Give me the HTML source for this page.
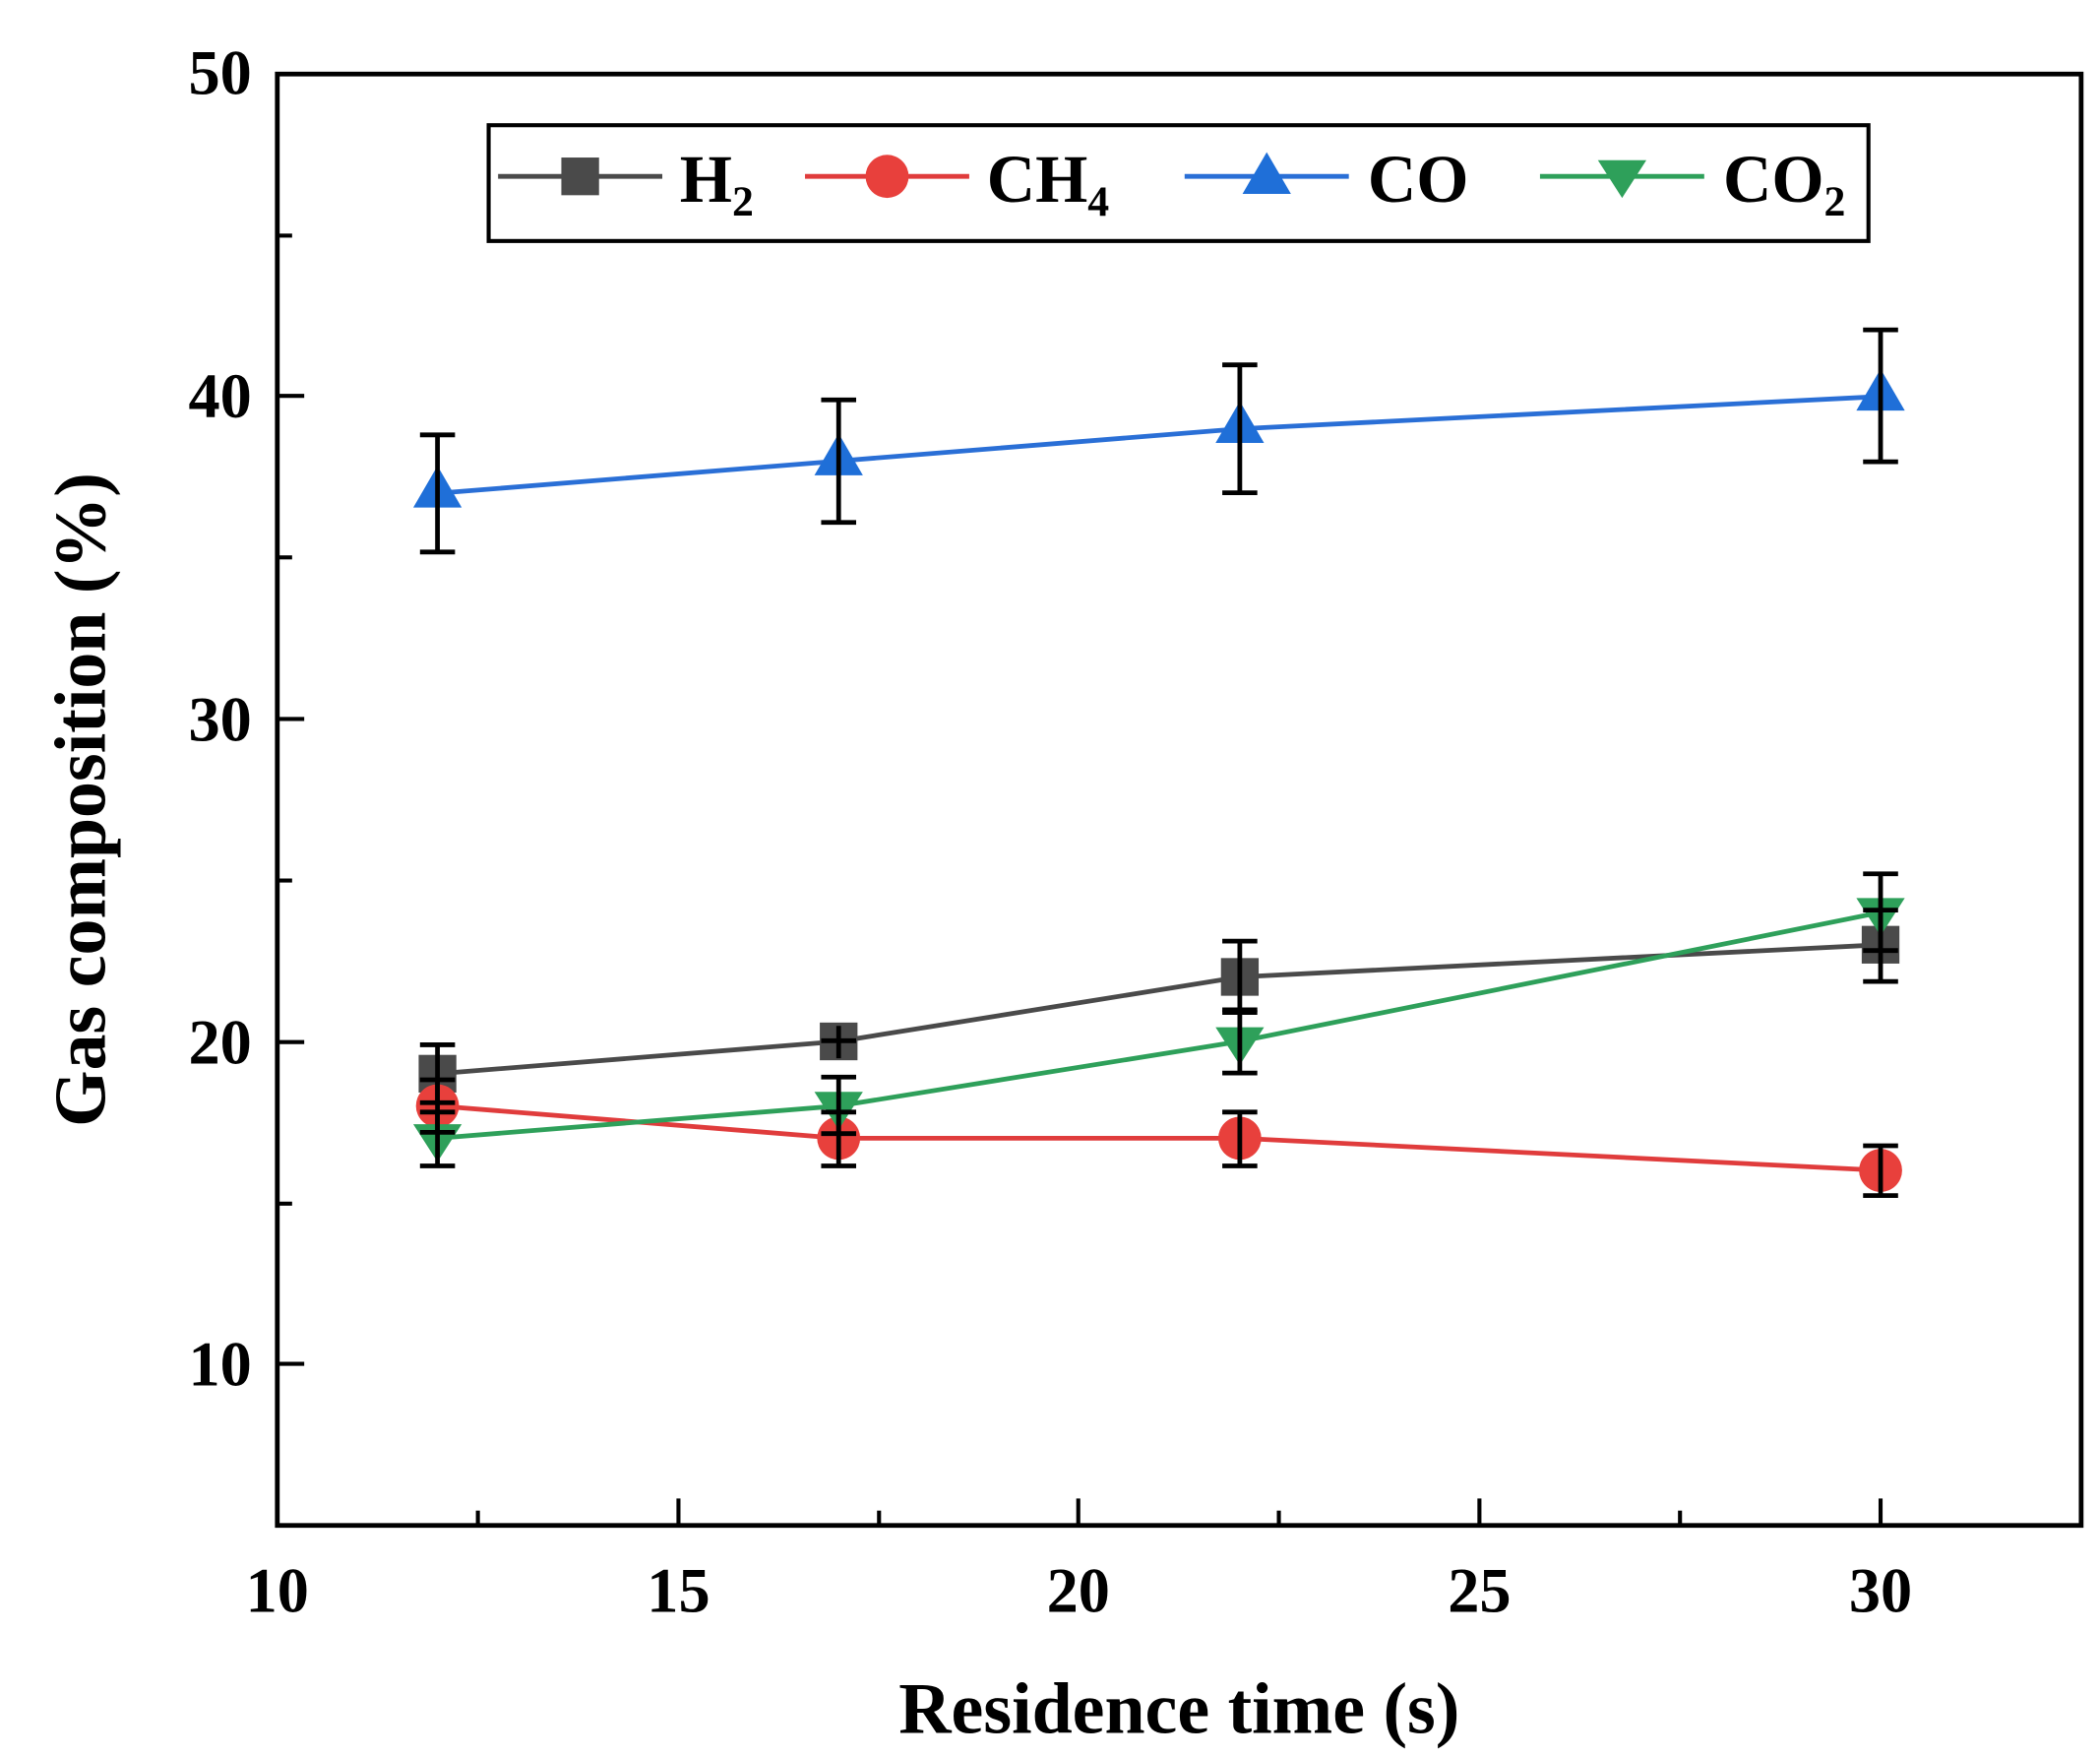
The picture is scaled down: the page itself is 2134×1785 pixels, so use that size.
<!DOCTYPE html>
<html><head><style>html,body{margin:0;padding:0;background:#fff;}svg{display:block;}</style></head>
<body>
<svg width="2134" height="1785" viewBox="0 0 1560 1305" preserveAspectRatio="none" xmlns="http://www.w3.org/2000/svg" font-family="Liberation Serif, serif" font-weight="bold">
<rect width="1560" height="1305" fill="#fff"/>
<rect x="206" y="55" width="1340" height="1078" fill="none" stroke="#000" stroke-width="3.5"/>
<g stroke="#000" stroke-width="3">
<line x1="504" y1="1133" x2="504" y2="1113"/><line x1="801" y1="1133" x2="801" y2="1113"/><line x1="1099" y1="1133" x2="1099" y2="1113"/><line x1="1397" y1="1133" x2="1397" y2="1113"/>
<line x1="355" y1="1133" x2="355" y2="1122"/><line x1="653" y1="1133" x2="653" y2="1122"/><line x1="950" y1="1133" x2="950" y2="1122"/><line x1="1248" y1="1133" x2="1248" y2="1122"/>
<line x1="206" y1="294" x2="226" y2="294"/><line x1="206" y1="534" x2="226" y2="534"/><line x1="206" y1="774" x2="226" y2="774"/><line x1="206" y1="1013" x2="226" y2="1013"/>
<line x1="206" y1="175" x2="217" y2="175"/><line x1="206" y1="414" x2="217" y2="414"/><line x1="206" y1="654" x2="217" y2="654"/><line x1="206" y1="894" x2="217" y2="894"/>
</g>
<g font-size="47" text-anchor="end">
<text x="187" y="70">50</text><text x="187" y="310">40</text><text x="187" y="550">30</text><text x="187" y="790">20</text><text x="187" y="1029">10</text>
</g>
<g font-size="47" text-anchor="middle">
<text x="206" y="1197">10</text><text x="504" y="1197">15</text><text x="801" y="1197">20</text><text x="1099" y="1197">25</text><text x="1397" y="1197">30</text>
</g>
<text x="876" y="1287" font-size="54" text-anchor="middle">Residence time (s)</text>
<text transform="translate(78,594) rotate(-90)" font-size="54" text-anchor="middle">Gas composition (%)</text>
<polyline points="325,797.5 623,773.5 921,725.6 1397,701.7" fill="none" stroke="#4a4a4a" stroke-width="3.5"/>
<polyline points="325,821.4 623,845.4 921,845.4 1397,869.3" fill="none" stroke="#e03c3c" stroke-width="3.5"/>
<polyline points="325,366.4 623,342.4 921,318.5 1397,294.5" fill="none" stroke="#2a6fd6" stroke-width="3.5"/>
<polyline points="325,845.4 623,821.4 921,773.5 1397,677.7" fill="none" stroke="#2ea05a" stroke-width="3.5"/>
<g fill="#4a4a4a"><rect x="311" y="783.5" width="28" height="28"/><rect x="609" y="759.5" width="28" height="28"/><rect x="907" y="711.6" width="28" height="28"/><rect x="1383" y="687.7" width="28" height="28"/></g>
<g fill="#e8403c"><circle cx="325" cy="821.4" r="16"/><circle cx="623" cy="845.4" r="16"/><circle cx="921" cy="845.4" r="16"/><circle cx="1397" cy="869.3" r="16"/></g>
<g fill="#1f6fd8"><polygon points="325,346 343,377 307,377"/><polygon points="623,322 641,353 605,353"/><polygon points="921,298 939,329 903,329"/><polygon points="1397,274 1415,305 1379,305"/></g>
<g fill="#2ea05a"><polygon points="307,835 343,835 325,863"/><polygon points="605,811 641,811 623,839"/><polygon points="903,763 939,763 921,791"/><polygon points="1379,667 1415,667 1397,695"/></g>
<g stroke="#000" stroke-width="3.5" fill="none">
<path d="M325,323V410M312,323h26M312,410h26"/>
<path d="M623,297V388M610,297h26M610,388h26"/>
<path d="M921,271V366M908,271h26M908,366h26"/>
<path d="M1397,245V343M1384,245h26M1384,343h26"/>
<path d="M325,776V819M312,776h26M312,819h26"/>
<path d="M623,762V786M610,773h26"/>
<path d="M921,699V752M908,699h26M908,752h26"/>
<path d="M1397,676V729M1384,676h26M1384,729h26"/>
<path d="M325,802V841M312,802h26M312,841h26"/>
<path d="M623,826V866M610,826h26M610,866h26"/>
<path d="M921,826V866M908,826h26M908,866h26"/>
<path d="M1397,851V888M1384,851h26M1384,888h26"/>
<path d="M325,826V866M312,826h26M312,866h26"/>
<path d="M623,800V842M610,800h26M610,842h26"/>
<path d="M921,750V797M908,750h26M908,797h26"/>
<path d="M1397,649V706M1384,649h26M1384,706h26"/>
</g>
<rect x="363" y="93" width="1025" height="86" fill="#fff" stroke="#000" stroke-width="3"/>
<line x1="370" y1="131" x2="492" y2="131" stroke="#4a4a4a" stroke-width="3.5"/><rect x="417" y="117" width="28" height="28" fill="#4a4a4a"/>
<text x="505" y="150" font-size="50">H<tspan font-size="32" dy="10">2</tspan></text>
<line x1="598" y1="131" x2="720" y2="131" stroke="#e03c3c" stroke-width="3.5"/><circle cx="659" cy="131" r="16" fill="#e8403c"/>
<text x="733" y="150" font-size="50">CH<tspan font-size="32" dy="10">4</tspan></text>
<line x1="880" y1="131" x2="1002" y2="131" stroke="#2a6fd6" stroke-width="3.5"/><polygon points="941,113 959,144 923,144" fill="#1f6fd8"/>
<text x="1016" y="150" font-size="50">CO</text>
<line x1="1144" y1="131" x2="1266" y2="131" stroke="#2ea05a" stroke-width="3.5"/><polygon points="1187,119 1223,119 1205,147" fill="#2ea05a"/>
<text x="1280" y="150" font-size="50">CO<tspan font-size="32" dy="10">2</tspan></text>
</svg>
</body></html>
